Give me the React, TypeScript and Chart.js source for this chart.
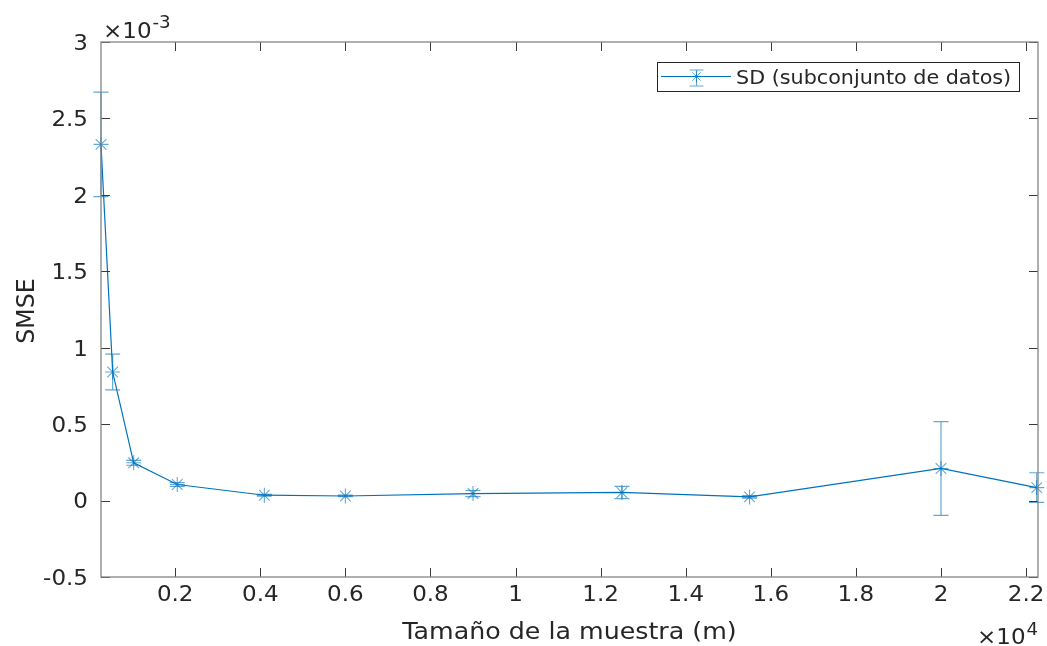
import React, { useEffect, useRef } from "react";
import { Chart, registerables } from "chart.js";

Chart.register(...registerables);

// ---- data ----
const sampleSizes = [256, 530, 1024, 2048, 4096, 6000, 9000, 12500, 15500, 20000, 22250];
const smseMean = [2.33e-3, 0.841e-3, 0.247e-3, 0.105e-3, 0.035e-3, 0.03e-3, 0.046e-3, 0.053e-3, 0.024e-3, 0.21e-3, 0.085e-3];
const smseErr = [0.342e-3, 0.117e-3, 0.016e-3, 0.012e-3, 0.006e-3, 0.005e-3, 0.02e-3, 0.04e-3, 0.008e-3, 0.307e-3, 0.097e-3];

const xTickValues = [2000, 4000, 6000, 8000, 10000, 12000, 14000, 16000, 18000, 20000, 22000];
const xTickLabels = ["0.2", "0.4", "0.6", "0.8", "1", "1.2", "1.4", "1.6", "1.8", "2", "2.2"];
const yTickValues = [-0.5e-3, 0, 0.5e-3, 1e-3, 1.5e-3, 2e-3, 2.5e-3, 3e-3];
const yTickLabels = ["-0.5", "0", "0.5", "1", "1.5", "2", "2.5", "3"];

const seriesLabel = "SD (subconjunto de datos)";
const xTitle = "Tamaño de la muestra (m)";
const yTitle = "SMSE";

const X_MIN = 256;
const X_MAX = 22280;
const Y_MIN = -0.5e-3;
const Y_MAX = 3e-3;

const FONT = '"DejaVu Sans", Verdana, sans-serif';
const TICK_PX = 21.5;
const SX = 1.07;
const TEXT = "#262626";
const LINE = "#0072BD";
const LIGHT = "rgba(0,114,189,0.62)";

function drawText(
  ctx: CanvasRenderingContext2D,
  text: string,
  x: number,
  y: number,
  align: CanvasTextAlign,
  size: number
) {
  ctx.save();
  ctx.font = `${size}px ${FONT}`;
  ctx.fillStyle = TEXT;
  ctx.textAlign = align;
  ctx.textBaseline = "alphabetic";
  ctx.translate(x, y);
  ctx.scale(SX, 1);
  ctx.fillText(text, 0, 0);
  ctx.restore();
}

function textWidth(ctx: CanvasRenderingContext2D, text: string, size: number) {
  ctx.save();
  ctx.font = `${size}px ${FONT}`;
  const w = ctx.measureText(text).width * SX;
  ctx.restore();
  return w;
}

function drawStar(ctx: CanvasRenderingContext2D, cx: number, cy: number, r: number) {
  const d = r * Math.SQRT1_2;
  ctx.beginPath();
  ctx.moveTo(cx - r, cy);
  ctx.lineTo(cx + r, cy);
  ctx.moveTo(cx, cy - r);
  ctx.lineTo(cx, cy + r);
  ctx.moveTo(cx - d, cy - d);
  ctx.lineTo(cx + d, cy + d);
  ctx.moveTo(cx - d, cy + d);
  ctx.lineTo(cx + d, cy - d);
  ctx.stroke();
}

const errorBarPlugin = {
  id: "errorBars",
  beforeDatasetsDraw(chart: any) {
    const { ctx } = chart;
    const xs = chart.scales.x;
    const ys = chart.scales.y;
    const ds = chart.data.datasets[0];
    ctx.save();
    ctx.strokeStyle = LIGHT;
    ctx.lineWidth = 1.2;
    ds.data.forEach((p: any) => {
      const px = xs.getPixelForValue(p.x);
      const top = ys.getPixelForValue(p.y + p.err);
      const bot = ys.getPixelForValue(p.y - p.err);
      ctx.beginPath();
      ctx.moveTo(px, top);
      ctx.lineTo(px, bot);
      ctx.moveTo(px - 7.5, top);
      ctx.lineTo(px + 7.5, top);
      ctx.moveTo(px - 7.5, bot);
      ctx.lineTo(px + 7.5, bot);
      ctx.stroke();
    });
    ctx.restore();
  },
};

const framePlugin = {
  id: "frameAndText",
  afterDraw(chart: any) {
    const { ctx, chartArea } = chart;
    const { left, right, top, bottom } = chartArea;
    const xs = chart.scales.x;
    const ys = chart.scales.y;

    ctx.save();
    // ticks (inward, all four sides)
    ctx.strokeStyle = "#3a3a3a";
    ctx.lineWidth = 1;
    const TL = 9;
    ctx.beginPath();
    xTickValues.forEach((v) => {
      const px = Math.round(xs.getPixelForValue(v)) + 0.5;
      ctx.moveTo(px, bottom);
      ctx.lineTo(px, bottom - TL);
      ctx.moveTo(px, top);
      ctx.lineTo(px, top + TL);
    });
    yTickValues.forEach((v) => {
      const py = Math.round(ys.getPixelForValue(v)) + 0.5;
      ctx.moveTo(left, py);
      ctx.lineTo(left + TL, py);
      ctx.moveTo(right, py);
      ctx.lineTo(right - TL, py);
    });
    ctx.stroke();

    // frame
    ctx.strokeStyle = "#858585";
    ctx.lineWidth = 1.3;
    ctx.strokeRect(left, top, right - left, bottom - top);
    ctx.restore();

    // tick labels
    xTickValues.forEach((v, i) => {
      drawText(ctx, xTickLabels[i], xs.getPixelForValue(v), 601, "center", TICK_PX);
    });
    yTickValues.forEach((v, i) => {
      drawText(ctx, yTickLabels[i], 88, ys.getPixelForValue(v) + 7.8, "right", TICK_PX);
    });

    // exponent labels
    drawText(ctx, "×10", 103, 38, "left", TICK_PX);
    drawText(ctx, "-3", 103 + textWidth(ctx, "×10", TICK_PX) + 1, 28, "left", 17);
    drawText(ctx, "×10", 977, 644, "left", TICK_PX);
    drawText(ctx, "4", 977 + textWidth(ctx, "×10", TICK_PX) + 1, 635, "left", 17);

    // axis titles
    drawText(ctx, xTitle, (left + right) / 2, 639, "center", TICK_PX * 1.1);
    ctx.save();
    ctx.font = `${TICK_PX * 1.1}px ${FONT}`;
    ctx.fillStyle = TEXT;
    ctx.textAlign = "center";
    ctx.textBaseline = "alphabetic";
    ctx.translate(34, 311);
    ctx.scale(SX, 1);
    ctx.rotate(-Math.PI / 2);
    ctx.fillText(yTitle, 0, 0);
    ctx.restore();

    // legend
    const lx0 = 657.5, ly0 = 62.5, lw = 362, lh = 29;
    ctx.save();
    ctx.fillStyle = "#ffffff";
    ctx.fillRect(lx0, ly0, lw, lh);
    ctx.strokeStyle = "#262626";
    ctx.lineWidth = 1;
    ctx.strokeRect(lx0, ly0, lw, lh);
    const cy = 76.5;
    const cx = 696.5;
    ctx.strokeStyle = LINE;
    ctx.lineWidth = 1.2;
    ctx.beginPath();
    ctx.moveTo(661, cy);
    ctx.lineTo(731, cy);
    ctx.stroke();
    ctx.strokeStyle = LIGHT;
    ctx.beginPath();
    ctx.moveTo(cx, 70);
    ctx.lineTo(cx, 86);
    ctx.moveTo(cx - 7, 70);
    ctx.lineTo(cx + 7, 70);
    ctx.moveTo(cx - 7, 86);
    ctx.lineTo(cx + 7, 86);
    ctx.stroke();
    ctx.lineWidth = 1;
    drawStar(ctx, cx, cy, 6);
    ctx.restore();
    drawText(ctx, seriesLabel, 736, 84, "left", TICK_PX * 0.9);
  },
};

export default function App() {
  const canvasRef = useRef<HTMLCanvasElement | null>(null);

  useEffect(() => {
    const canvas = canvasRef.current;
    if (!canvas) return;
    const points = sampleSizes.map((x, i) => ({ x, y: smseMean[i], err: smseErr[i] }));
    const chart = new Chart(canvas, {
      type: "scatter",
      data: {
        datasets: [
          {
            label: seriesLabel,
            data: points as any,
            showLine: true,
            borderColor: LINE,
            borderWidth: 1.2,
            pointStyle: "star",
            pointRadius: 7.5,
            pointHoverRadius: 7.5,
            pointBorderColor: LIGHT,
            pointBorderWidth: 1.1,
            pointBackgroundColor: "transparent",
            clip: false as any,
          },
        ],
      },
      options: {
        animation: false,
        responsive: false,
        devicePixelRatio: 1,
        layout: { padding: { top: 42, right: 9, left: 0, bottom: 0 } },
        plugins: { legend: { display: false }, tooltip: { enabled: false } },
        events: [],
        scales: {
          x: {
            type: "linear",
            min: X_MIN,
            max: X_MAX,
            grid: { display: false },
            border: { display: false },
            ticks: { display: false },
            afterBuildTicks: (s: any) => {
              s.ticks = xTickValues.map((v) => ({ value: v }));
            },
            afterFit: (s: any) => {
              s.height = 69;
            },
          },
          y: {
            type: "linear",
            min: Y_MIN,
            max: Y_MAX,
            grid: { display: false },
            border: { display: false },
            ticks: { display: false },
            afterBuildTicks: (s: any) => {
              s.ticks = yTickValues.map((v) => ({ value: v }));
            },
            afterFit: (s: any) => {
              s.width = 101;
            },
          },
        },
      },
      plugins: [errorBarPlugin, framePlugin],
    });
    return () => chart.destroy();
  }, []);

  return (
    <div style={{ position: "fixed", left: 0, top: 0, width: 1047, height: 646, background: "#fff" }}>
      <canvas ref={canvasRef} width={1047} height={646} style={{ display: "block" }} />
    </div>
  );
}
